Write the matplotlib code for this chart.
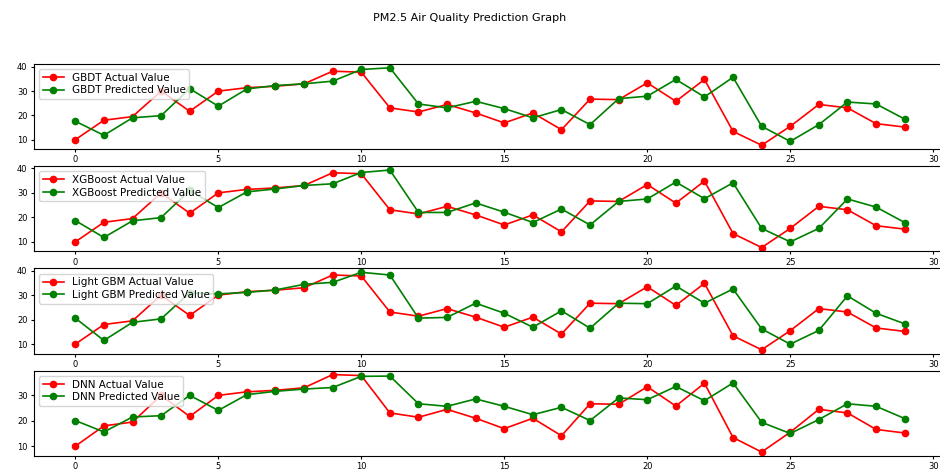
import numpy as np
import matplotlib.pyplot as plt

# PM2.5 actual values (shared by all four models)
actual = [10, 18, 19.5, 30, 21.7, 30, 31.4, 32, 33, 38.2,
          37.8, 23.1, 21.4, 24.5, 21, 16.9, 21, 14.1, 26.7, 26.5,
          33.4, 25.8, 34.8, 13.4, 7.7, 15.5, 24.5, 23.1, 16.6, 15.2]

gbdt_pred = [17.6, 11.8, 19, 19.9, 31, 23.8, 30.9, 32.3, 33, 34.1,
             38.9, 39.6, 24.7, 23.1, 25.8, 22.8, 19, 22.4, 16.2, 26.9,
             27.9, 34.8, 27.6, 35.7, 15.5, 9.3, 16.2, 25.5, 24.7, 18.5]

xgb_pred = [18.7, 11.8, 18.6, 19.9, 31, 24, 30.4, 31.6, 33, 33.7,
            38.3, 39.3, 22, 22, 25.9, 22.1, 17.9, 23.4, 16.9, 26.5,
            27.5, 34.4, 27.6, 34.1, 15.5, 10, 15.5, 27.5, 24.2, 17.9]

lgbm_pred = [20.6, 11.5, 18.9, 20.3, 31, 30.5, 31.1, 32.1, 34.4, 35.2,
             39.3, 38.2, 20.6, 20.9, 26.7, 22.6, 16.9, 23.6, 16.5, 26.7,
             26.5, 33.7, 26.7, 32.5, 16.2, 10, 15.6, 29.7, 22.6, 18.3]

dnn_pred = [20.1, 15.6, 21.5, 22, 30, 24.1, 30.3, 31.6, 32.5, 33.1,
            37.5, 37.6, 26.7, 25.7, 28.6, 25.7, 22.4, 25.3, 20.1, 29,
            28.3, 33.5, 27.9, 34.9, 19.4, 15, 20.5, 26.7, 25.7, 20.9]

models = ["GBDT", "XGBoost", "Light GBM", "DNN"]
preds = [gbdt_pred, xgb_pred, lgbm_pred, dnn_pred]

fig, axes = plt.subplots(4, 1, figsize=(9.4, 4.7), dpi=100)
fig.subplots_adjust(left=0.036, right=1.0065, top=0.864, bottom=0.03, hspace=0.2)
fig.suptitle("PM2.5 Air Quality Prediction Graph", fontsize=8, y=0.972)

x = np.arange(len(actual))
for ax, name, pred in zip(axes, models, preds):
    ax.plot(x, actual, "r-o", lw=1.2, markersize=4.5, label=f"{name} Actual Value")
    ax.plot(x, pred, "g-o", lw=1.2, markersize=4.5, label=f"{name} Predicted Value")
    ax.set_xticks([0, 5, 10, 15, 20, 25, 30])
    ax.tick_params(labelsize=6, length=2.5, pad=2)
    ax.legend(loc="upper left", fontsize=7.5, borderpad=0.35, labelspacing=0.25,
              handlelength=2)

fig.savefig("out.png", dpi=100)
